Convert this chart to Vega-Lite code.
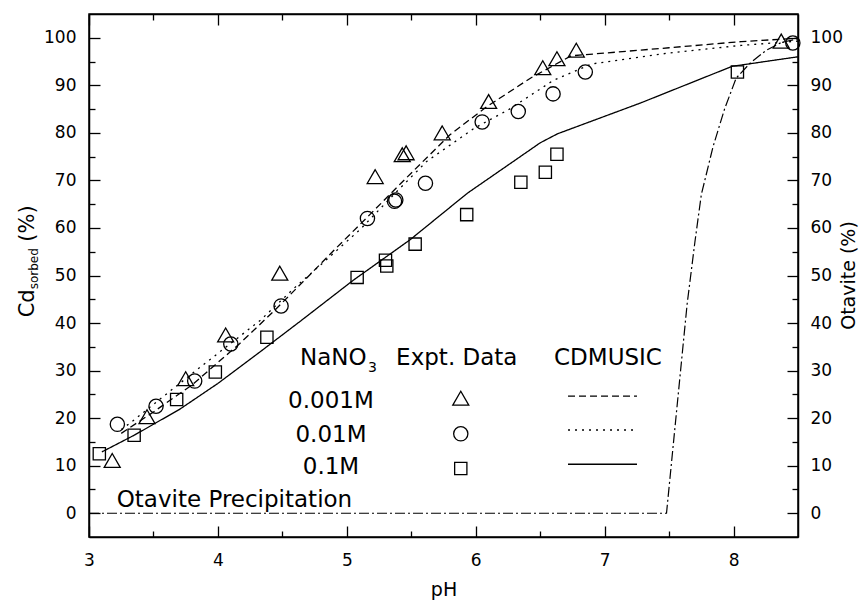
{
  "$schema": "https://vega.github.io/schema/vega-lite/v6.json",
  "width": 709,
  "height": 523,
  "autosize": "none",
  "padding": {"left": 89, "top": 14, "right": 63, "bottom": 65},
  "background": "white",
  "datasets": {
    "points": [
      {"series": "0.001M", "pH": 3.18, "cd": 11.1},
      {"series": "0.001M", "pH": 3.45, "cd": 20.3},
      {"series": "0.001M", "pH": 3.75, "cd": 28.3},
      {"series": "0.001M", "pH": 4.06, "cd": 37.5},
      {"series": "0.001M", "pH": 4.48, "cd": 50.5},
      {"series": "0.001M", "pH": 5.22, "cd": 70.8},
      {"series": "0.001M", "pH": 5.43, "cd": 75.4},
      {"series": "0.001M", "pH": 5.46, "cd": 75.8},
      {"series": "0.001M", "pH": 5.74, "cd": 80.0},
      {"series": "0.001M", "pH": 6.10, "cd": 86.6},
      {"series": "0.001M", "pH": 6.52, "cd": 93.7},
      {"series": "0.001M", "pH": 6.63, "cd": 95.6},
      {"series": "0.001M", "pH": 6.78, "cd": 97.4},
      {"series": "0.001M", "pH": 8.37, "cd": 99.3},
      {"series": "0.01M", "pH": 3.22, "cd": 18.7},
      {"series": "0.01M", "pH": 3.52, "cd": 22.5},
      {"series": "0.01M", "pH": 3.82, "cd": 27.8},
      {"series": "0.01M", "pH": 4.10, "cd": 35.6},
      {"series": "0.01M", "pH": 4.49, "cd": 43.6},
      {"series": "0.01M", "pH": 5.16, "cd": 62.0},
      {"series": "0.01M", "pH": 5.37, "cd": 65.6},
      {"series": "0.01M", "pH": 5.38, "cd": 65.9},
      {"series": "0.01M", "pH": 5.61, "cd": 69.4},
      {"series": "0.01M", "pH": 6.05, "cd": 82.3},
      {"series": "0.01M", "pH": 6.33, "cd": 84.5},
      {"series": "0.01M", "pH": 6.60, "cd": 88.2},
      {"series": "0.01M", "pH": 6.85, "cd": 92.8},
      {"series": "0.01M", "pH": 8.46, "cd": 98.9},
      {"series": "0.1M", "pH": 3.08, "cd": 12.5},
      {"series": "0.1M", "pH": 3.35, "cd": 16.4},
      {"series": "0.1M", "pH": 3.68, "cd": 23.9},
      {"series": "0.1M", "pH": 3.98, "cd": 29.7},
      {"series": "0.1M", "pH": 4.38, "cd": 37.0},
      {"series": "0.1M", "pH": 5.08, "cd": 49.6},
      {"series": "0.1M", "pH": 5.30, "cd": 53.2},
      {"series": "0.1M", "pH": 5.31, "cd": 52.0},
      {"series": "0.1M", "pH": 5.53, "cd": 56.6},
      {"series": "0.1M", "pH": 5.93, "cd": 62.8},
      {"series": "0.1M", "pH": 6.35, "cd": 69.6},
      {"series": "0.1M", "pH": 6.54, "cd": 71.7},
      {"series": "0.1M", "pH": 6.63, "cd": 75.5},
      {"series": "0.1M", "pH": 8.03, "cd": 92.8}
    ],
    "lines": [
      {"series": "0.001M", "pH": 3.25, "cd": 16.8},
      {"series": "0.001M", "pH": 3.5, "cd": 21.3},
      {"series": "0.001M", "pH": 3.8, "cd": 27.0},
      {"series": "0.001M", "pH": 4.17, "cd": 35.7},
      {"series": "0.001M", "pH": 4.43, "cd": 42.4},
      {"series": "0.001M", "pH": 4.65, "cd": 48.4},
      {"series": "0.001M", "pH": 4.9, "cd": 55.3},
      {"series": "0.001M", "pH": 5.16, "cd": 62.3},
      {"series": "0.001M", "pH": 5.42, "cd": 69.4},
      {"series": "0.001M", "pH": 5.8, "cd": 79.6},
      {"series": "0.001M", "pH": 6.09, "cd": 85.6},
      {"series": "0.001M", "pH": 6.43, "cd": 91.6},
      {"series": "0.001M", "pH": 6.74, "cd": 96.2},
      {"series": "0.001M", "pH": 7.5, "cd": 97.9},
      {"series": "0.001M", "pH": 8.06, "cd": 99.2},
      {"series": "0.001M", "pH": 8.5, "cd": 99.9},
      {"series": "0.01M", "pH": 3.25, "cd": 17.6},
      {"series": "0.01M", "pH": 3.33, "cd": 19.2},
      {"series": "0.01M", "pH": 3.81, "cd": 29.6},
      {"series": "0.01M", "pH": 4.33, "cd": 40.6},
      {"series": "0.01M", "pH": 4.59, "cd": 47.3},
      {"series": "0.01M", "pH": 4.82, "cd": 52.8},
      {"series": "0.01M", "pH": 5.1, "cd": 59.6},
      {"series": "0.01M", "pH": 5.4, "cd": 68.0},
      {"series": "0.01M", "pH": 5.62, "cd": 74.0},
      {"series": "0.01M", "pH": 5.99, "cd": 81.0},
      {"series": "0.01M", "pH": 6.25, "cd": 84.8},
      {"series": "0.01M", "pH": 6.6, "cd": 91.0},
      {"series": "0.01M", "pH": 6.9, "cd": 94.5},
      {"series": "0.01M", "pH": 7.5, "cd": 96.8},
      {"series": "0.01M", "pH": 8.06, "cd": 98.4},
      {"series": "0.01M", "pH": 8.5, "cd": 99.3},
      {"series": "0.1M", "pH": 3.1, "cd": 12.9},
      {"series": "0.1M", "pH": 3.35, "cd": 16.4},
      {"series": "0.1M", "pH": 3.7, "cd": 21.8},
      {"series": "0.1M", "pH": 4.0, "cd": 27.3},
      {"series": "0.1M", "pH": 4.33, "cd": 34.0},
      {"series": "0.1M", "pH": 4.64, "cd": 40.4},
      {"series": "0.1M", "pH": 5.05, "cd": 49.0},
      {"series": "0.1M", "pH": 5.49, "cd": 57.5},
      {"series": "0.1M", "pH": 5.935, "cd": 67.3},
      {"series": "0.1M", "pH": 6.5, "cd": 77.9},
      {"series": "0.1M", "pH": 6.634, "cd": 79.8},
      {"series": "0.1M", "pH": 7.28, "cd": 86.3},
      {"series": "0.1M", "pH": 7.99, "cd": 94.0},
      {"series": "0.1M", "pH": 8.5, "cd": 96.0}
    ],
    "otavite": [
      {"pH": 3.0, "ot": 0},
      {"pH": 7.48, "ot": 0},
      {"pH": 7.56, "ot": 22},
      {"pH": 7.64, "ot": 44},
      {"pH": 7.70, "ot": 57},
      {"pH": 7.75, "ot": 67},
      {"pH": 7.84, "ot": 77},
      {"pH": 7.93, "ot": 85},
      {"pH": 8.02, "ot": 91.5},
      {"pH": 8.13, "ot": 94.7},
      {"pH": 8.25, "ot": 97.3},
      {"pH": 8.37, "ot": 99.0},
      {"pH": 8.5, "ot": 99.8}
    ],
    "legendMarks": [
      {"series": "0.001M", "pH": 5.884, "cd": 24.2},
      {"series": "0.01M", "pH": 5.884, "cd": 16.7},
      {"series": "0.1M", "pH": 5.884, "cd": 9.4}
    ],
    "legendLines": [
      {"series": "0.001M", "pH": 6.716, "cd": 24.65},
      {"series": "0.001M", "pH": 7.251, "cd": 24.65},
      {"series": "0.01M", "pH": 6.716, "cd": 17.5},
      {"series": "0.01M", "pH": 7.251, "cd": 17.5},
      {"series": "0.1M", "pH": 6.716, "cd": 10.3},
      {"series": "0.1M", "pH": 7.251, "cd": 10.3}
    ],
    "textCenter": [
      {"label": "Expt. Data", "pH": 5.853, "cd": 31.2},
      {"label": "CDMUSIC", "pH": 7.026, "cd": 31.2},
      {"label": "0.001M", "pH": 4.877, "cd": 22.1},
      {"label": "0.01M", "pH": 4.877, "cd": 15.0},
      {"label": "0.1M", "pH": 4.877, "cd": 8.2}
    ],
    "textRight": [{"label": "NaNO", "pH": 5.154, "cd": 31.2}],
    "textLeft": [{"label": "Otavite Precipitation", "pH": 3.215, "cd": 1.4}],
    "textSub": [{"label": "3", "pH": 5.164, "cd": 29.7}],
    "ytitleBig": [
      {"label": "Cd", "pH": 2.573, "cd": 41.2},
      {"label": "(%)", "pH": 2.573, "cd": 57.1}
    ],
    "ytitleSub": [{"label": "sorbed", "pH": 2.604, "cd": 47.1}],
    "rtitle": [{"label": "Otavite (%)", "pH": 8.896, "cd": 50}]
  },
  "resolve": {"scale": {"x": "independent", "y": "independent"}},
  "layer": [
    {
      "data": {"name": "lines"},
      "mark": {"type": "line", "stroke": "black", "strokeWidth": 1.3},
      "encoding": {
        "x": {"field": "pH", "type": "quantitative", "scale": {"domain": [3, 8.5], "nice": false, "zero": false},
          "axis": {"orient": "bottom", "values": [3, 3.5, 4, 4.5, 5, 5.5, 6, 6.5, 7, 7.5, 8],
            "labelExpr": "datum.value % 1 === 0 ? format(datum.value, 'd') : ''",
            "tickSize": {"condition": {"test": "datum.value % 1 === 0", "value": -11}, "value": -6},
            "labelPadding": 26, "labelFlush": false, "labelOverlap": false,
            "title": "pH", "titlePadding": 7, "titleFontSize": 19}},
        "y": {"field": "cd", "type": "quantitative", "scale": {"domain": [-5, 105], "nice": false, "zero": false},
          "axis": {"orient": "left", "values": [0, 5, 10, 15, 20, 25, 30, 35, 40, 45, 50, 55, 60, 65, 70, 75, 80, 85, 90, 95, 100],
            "labelExpr": "datum.value % 10 === 0 ? format(datum.value, 'd') : ''",
            "tickSize": {"condition": {"test": "datum.value % 10 === 0", "value": -11}, "value": -6},
            "labelPadding": 24, "labelOverlap": false, "title": null}},
        "strokeDash": {"field": "series", "type": "nominal",
          "scale": {"domain": ["0.001M", "0.01M", "0.1M"], "range": [[7, 4], [2, 5], [1, 0]]}, "legend": null},
        "detail": {"field": "series"}
      }
    },
    {
      "data": {"name": "otavite"},
      "mark": {"type": "line", "stroke": "black", "strokeWidth": 1.2, "strokeDash": [10, 3, 2, 3]},
      "encoding": {
        "x": {"field": "pH", "type": "quantitative", "scale": {"domain": [3, 8.5], "nice": false, "zero": false},
          "axis": {"orient": "top", "values": [3, 3.5, 4, 4.5, 5, 5.5, 6, 6.5, 7, 7.5, 8], "labels": false,
            "tickSize": {"condition": {"test": "datum.value % 1 === 0", "value": -11}, "value": -6}, "title": null}},
        "y": {"field": "ot", "type": "quantitative", "scale": {"domain": [-5, 105], "nice": false, "zero": false},
          "axis": {"orient": "right", "values": [0, 5, 10, 15, 20, 25, 30, 35, 40, 45, 50, 55, 60, 65, 70, 75, 80, 85, 90, 95, 100],
            "labelExpr": "datum.value % 10 === 0 ? format(datum.value, 'd') : ''",
            "tickSize": {"condition": {"test": "datum.value % 10 === 0", "value": -11}, "value": -6},
            "labelPadding": 23, "labelOverlap": false, "labelFlush": false, "title": null}}
      }
    },
    {
      "data": {"name": "points"},
      "mark": {"type": "point", "filled": false, "stroke": "black", "strokeWidth": 1.3, "opacity": 1},
      "encoding": {
        "x": {"field": "pH", "type": "quantitative", "scale": {"domain": [3, 8.5], "nice": false, "zero": false}, "axis": null},
        "y": {"field": "cd", "type": "quantitative", "scale": {"domain": [-5, 105], "nice": false, "zero": false}, "axis": null},
        "shape": {"field": "series", "type": "nominal", "scale": {"domain": ["0.001M", "0.01M", "0.1M"], "range": ["triangle-up", "circle", "square"]}, "legend": null},
        "size": {"field": "series", "type": "nominal", "scale": {"domain": ["0.001M", "0.01M", "0.1M"], "range": [256, 150, 121]}, "legend": null}
      }
    },
    {
      "data": {"name": "legendMarks"},
      "mark": {"type": "point", "filled": false, "stroke": "black", "strokeWidth": 1.3, "opacity": 1},
      "encoding": {
        "x": {"field": "pH", "type": "quantitative", "scale": {"domain": [3, 8.5], "nice": false, "zero": false}, "axis": null},
        "y": {"field": "cd", "type": "quantitative", "scale": {"domain": [-5, 105], "nice": false, "zero": false}, "axis": null},
        "shape": {"field": "series", "type": "nominal", "scale": {"domain": ["0.001M", "0.01M", "0.1M"], "range": ["triangle-up", "circle", "square"]}, "legend": null},
        "size": {"field": "series", "type": "nominal", "scale": {"domain": ["0.001M", "0.01M", "0.1M"], "range": [256, 150, 121]}, "legend": null}
      }
    },
    {
      "data": {"name": "legendLines"},
      "mark": {"type": "line", "stroke": "black", "strokeWidth": 1.3},
      "encoding": {
        "x": {"field": "pH", "type": "quantitative", "scale": {"domain": [3, 8.5], "nice": false, "zero": false}, "axis": null},
        "y": {"field": "cd", "type": "quantitative", "scale": {"domain": [-5, 105], "nice": false, "zero": false}, "axis": null},
        "strokeDash": {"field": "series", "type": "nominal",
          "scale": {"domain": ["0.001M", "0.01M", "0.1M"], "range": [[7, 4], [2, 5], [1, 0]]}, "legend": null},
        "detail": {"field": "series"}
      }
    },
    {
      "data": {"name": "textCenter"},
      "mark": {"type": "text", "font": "DejaVu Sans", "fontSize": 23, "align": "center", "baseline": "alphabetic", "color": "black"},
      "encoding": {
        "x": {"field": "pH", "type": "quantitative", "scale": {"domain": [3, 8.5], "nice": false, "zero": false}, "axis": null},
        "y": {"field": "cd", "type": "quantitative", "scale": {"domain": [-5, 105], "nice": false, "zero": false}, "axis": null},
        "text": {"field": "label"}
      }
    },
    {
      "data": {"name": "textRight"},
      "mark": {"type": "text", "font": "DejaVu Sans", "fontSize": 23, "align": "right", "baseline": "alphabetic", "color": "black"},
      "encoding": {
        "x": {"field": "pH", "type": "quantitative", "scale": {"domain": [3, 8.5], "nice": false, "zero": false}, "axis": null},
        "y": {"field": "cd", "type": "quantitative", "scale": {"domain": [-5, 105], "nice": false, "zero": false}, "axis": null},
        "text": {"field": "label"}
      }
    },
    {
      "data": {"name": "textLeft"},
      "mark": {"type": "text", "font": "DejaVu Sans", "fontSize": 23, "align": "left", "baseline": "alphabetic", "color": "black"},
      "encoding": {
        "x": {"field": "pH", "type": "quantitative", "scale": {"domain": [3, 8.5], "nice": false, "zero": false}, "axis": null},
        "y": {"field": "cd", "type": "quantitative", "scale": {"domain": [-5, 105], "nice": false, "zero": false}, "axis": null},
        "text": {"field": "label"}
      }
    },
    {
      "data": {"name": "textSub"},
      "mark": {"type": "text", "font": "DejaVu Sans", "fontSize": 14, "align": "left", "baseline": "alphabetic", "color": "black"},
      "encoding": {
        "x": {"field": "pH", "type": "quantitative", "scale": {"domain": [3, 8.5], "nice": false, "zero": false}, "axis": null},
        "y": {"field": "cd", "type": "quantitative", "scale": {"domain": [-5, 105], "nice": false, "zero": false}, "axis": null},
        "text": {"field": "label"}
      }
    },
    {
      "data": {"name": "ytitleBig"},
      "mark": {"type": "text", "font": "DejaVu Sans", "fontSize": 21, "align": "left", "baseline": "alphabetic", "angle": 270, "color": "black"},
      "encoding": {
        "x": {"field": "pH", "type": "quantitative", "scale": {"domain": [3, 8.5], "nice": false, "zero": false}, "axis": null},
        "y": {"field": "cd", "type": "quantitative", "scale": {"domain": [-5, 105], "nice": false, "zero": false}, "axis": null},
        "text": {"field": "label"}
      }
    },
    {
      "data": {"name": "ytitleSub"},
      "mark": {"type": "text", "font": "DejaVu Sans", "fontSize": 12, "align": "left", "baseline": "alphabetic", "angle": 270, "color": "black"},
      "encoding": {
        "x": {"field": "pH", "type": "quantitative", "scale": {"domain": [3, 8.5], "nice": false, "zero": false}, "axis": null},
        "y": {"field": "cd", "type": "quantitative", "scale": {"domain": [-5, 105], "nice": false, "zero": false}, "axis": null},
        "text": {"field": "label"}
      }
    },
    {
      "data": {"name": "rtitle"},
      "mark": {"type": "text", "font": "DejaVu Sans", "fontSize": 19, "align": "center", "baseline": "middle", "angle": 270, "color": "black"},
      "encoding": {
        "x": {"field": "pH", "type": "quantitative", "scale": {"domain": [3, 8.5], "nice": false, "zero": false}, "axis": null},
        "y": {"field": "cd", "type": "quantitative", "scale": {"domain": [-5, 105], "nice": false, "zero": false}, "axis": null},
        "text": {"field": "label"}
      }
    }
  ],
  "config": {
    "view": {"stroke": "black", "strokeWidth": 1.5},
    "axis": {"grid": false, "domainColor": "black", "domainWidth": 1.5, "tickColor": "black", "tickWidth": 1.3,
      "labelColor": "black", "labelFont": "DejaVu Sans", "labelFontSize": 17,
      "titleFont": "DejaVu Sans", "titleFontSize": 20, "titleFontWeight": "normal", "titleColor": "black"}
  }
}
